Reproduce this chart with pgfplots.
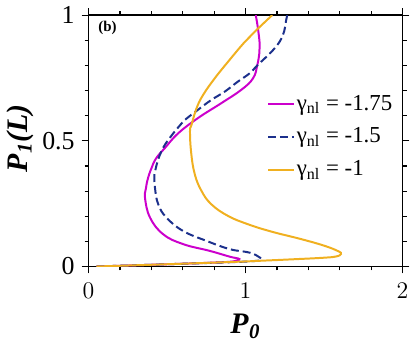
\documentclass[border=0pt]{standalone}
\usepackage{fontspec}
\setmainfont{Liberation Serif}
\usepackage{pgfplots}
\pgfplotsset{compat=1.18}
\definecolor{cmag}{RGB}{204,0,204}
\definecolor{cblue}{RGB}{28,48,140}
\definecolor{corange}{RGB}{240,176,32}
\begin{document}
\begin{tikzpicture}
\begin{axis}[
  name=ax,
  scale only axis,
  width=158pt, height=126.5pt,
  xmin=0, xmax=2, ymin=0, ymax=1,
  xtick={0,1,2}, ytick={0,0.5,1},
  yticklabels={0,0.5,1},
  minor x tick num=4, minor y tick num=4,
  tick align=outside,
  major tick length=3.5pt, minor tick length=2pt,
  tick style={black, line width=0.6pt},
  axis line style={line width=0.7pt},
  ticklabel style={font=\fontsize{13}{13}\selectfont},
  xticklabel style={yshift=-1.5pt},
  xlabel={\fontsize{15}{15}\selectfont\bfseries\itshape P\kern0.3pt\textsubscript{0}},
  ylabel={\fontsize{15}{15}\selectfont\bfseries\itshape P\kern0.3pt\textsubscript{1}(L)},
  xlabel style={at={(axis description cs:0.5,-0.238)}, anchor=center},
  ylabel style={at={(axis description cs:-0.218,0.51)}, anchor=center},
  legend style={at={(0.975,0.70)}, anchor=north east, draw=none, fill=none,
    font=\fontsize{11.5}{11.5}\selectfont, row sep=3.5pt, inner sep=0pt,
    nodes={inner xsep=1pt}},
  legend cell align=left,
  legend image code/.code={\draw[#1] (0pt,0pt) -- (13pt,0pt);},
]
\addplot[cmag, line width=1pt, smooth, tension=0.7] coordinates {
(0.05,0.0) (0.5,0.009) (0.85,0.017) (0.935,0.022) (0.958,0.027) (0.952,0.032)
(0.9,0.039) (0.773,0.062) (0.603,0.089) (0.476,0.128) (0.392,0.194)
(0.360,0.270) (0.365,0.310) (0.378,0.350) (0.400,0.390) (0.430,0.430)
(0.487,0.472) (0.571,0.530) (0.698,0.591) (0.846,0.650) (0.973,0.703)
(1.048,0.749) (1.075,0.802) (1.088,0.850) (1.090,0.885) (1.079,0.947) (1.065,1.0)
};
\addlegendentry{γ\textsubscript{nl} = -1.75}
\addplot[cblue, line width=1pt, dash pattern=on 4pt off 2pt, smooth, tension=0.7] coordinates {
(0.05,0.0) (0.5,0.009) (0.9,0.017) (1.06,0.022) (1.10,0.027) (1.09,0.036)
(1.027,0.055) (0.900,0.069) (0.751,0.102) (0.603,0.141) (0.497,0.194)
(0.444,0.247) (0.423,0.313) (0.420,0.370) (0.434,0.406) (0.455,0.445)
(0.487,0.485) (0.550,0.538) (0.603,0.577) (0.698,0.624) (0.783,0.663)
(0.868,0.696) (0.952,0.736) (1.027,0.769) (1.075,0.800) (1.185,0.868)
(1.238,0.921) (1.259,0.981) (1.265,1.0)
};
\addlegendentry{γ\textsubscript{nl} = -1.5}
\addplot[corange, line width=1pt, smooth, tension=0.7] coordinates {
(0.05,0.0) (0.5,0.009) (0.952,0.019) (1.100,0.023) (1.312,0.029) (1.5,0.035)
(1.578,0.040) (1.608,0.050) (1.590,0.061) (1.50,0.083) (1.354,0.109)
(1.164,0.139) (1.016,0.168) (0.889,0.201) (0.783,0.247) (0.720,0.300)
(0.677,0.366) (0.654,0.450) (0.646,0.538) (0.656,0.564) (0.688,0.630)
(0.730,0.683) (0.804,0.749) (0.889,0.815) (0.990,0.890) (1.060,0.935) (1.17,1.0)
};
\addlegendentry{γ\textsubscript{nl} = -1}
\node[anchor=center, font=\fontsize{7.5}{8}\selectfont\bfseries] at (rel axis cs:0.06,0.949) {(b)};
\end{axis}
\path ([shift={(-44.5pt,-45.5pt)}]ax.south west) rectangle ([shift={(5pt,6.5pt)}]ax.north east);
\end{tikzpicture}
\end{document}
